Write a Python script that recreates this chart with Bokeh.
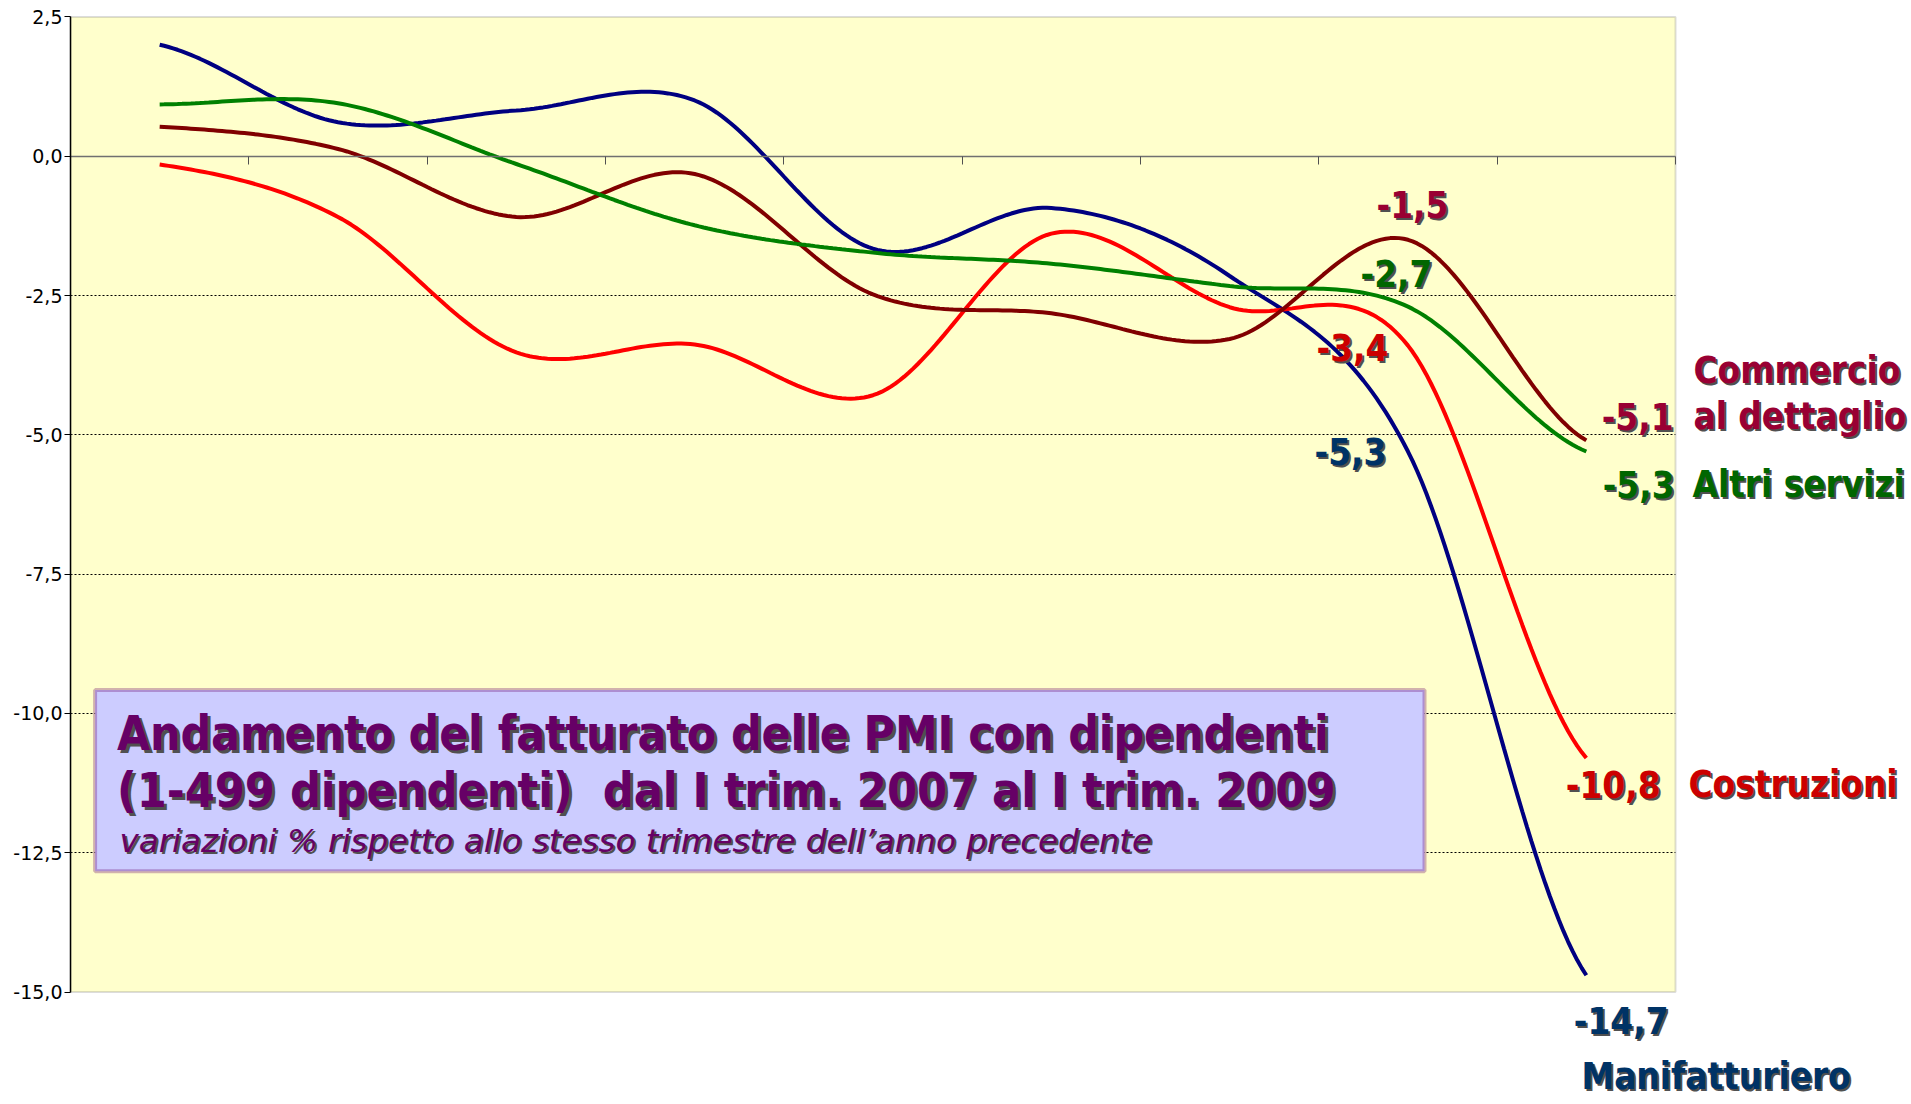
import numpy as np
from bokeh.plotting import figure
from bokeh.models import Range1d, FixedTicker, Label, BoxAnnotation, CustomJSTickFormatter
from bokeh.embed import file_html
from bokeh.resources import INLINE

# ---------------- data ----------------
quarters = ["I 2007", "II 2007", "III 2007", "IV 2007", "I 2008",
            "II 2008", "III 2008", "IV 2008", "I 2009"]
manifatturiero = [2.0, 0.61, 0.82, 1.0, -1.66, -0.93, -2.15, -5.3, -14.7]
costruzioni = [-0.15, -1.09, -3.52, -3.38, -4.29, -1.39, -2.71, -3.4, -10.8]
commercio = [0.53, 0.13, -1.09, -0.32, -2.48, -2.82, -3.28, -1.5, -5.1]
altri_servizi = [0.93, 0.95, -0.14, -1.24, -1.73, -1.93, -2.33, -2.7, -5.3]
series_names = ["Manifatturiero", "Costruzioni", "Commercio al dettaglio", "Altri servizi"]
y_min, y_max = -15.0, 2.5
y_ticks = [2.5, 0.0, -2.5, -5.0, -7.5, -10.0, -12.5, -15.0]
grid_ticks = [-2.5, -5.0, -7.5, -10.0, -12.5]

title1 = "Andamento del fatturato delle PMI con dipendenti"
title2 = "(1-499 dipendenti)\u00a0 dal I trim. 2007 al I trim. 2009"
title3 = "variazioni % rispetto allo stesso trimestre dell\u2019anno precedente"

# ---------------- geometry (page pixels -> data) ----------------
W, H = 1911, 1104
X0, X1 = 70.0, 1675.0
Y_TOP, Y_ZERO = 16.4, 155.7
N = len(quarters)
PX_X = (X1 - X0) / N
PX_Y = (Y_ZERO - Y_TOP) / y_max


def fx(px):
    return (px - X0) / PX_X


def fy(py):
    return (Y_ZERO - py) / PX_Y


def smooth(vals, n=40):
    v = [vals[0]] + list(vals) + [vals[-1]]
    xs, ys = [], []
    for i in range(len(vals) - 1):
        p0, p1, p2, p3 = v[i], v[i + 1], v[i + 2], v[i + 3]
        m1 = (p2 - p0) / 2.0
        m2 = (p3 - p1) / 2.0
        last = i == len(vals) - 2
        for t in np.linspace(0, 1, n, endpoint=last):
            h00 = 2 * t**3 - 3 * t**2 + 1
            h10 = t**3 - 2 * t**2 + t
            h01 = -2 * t**3 + 3 * t**2
            h11 = t**3 - t**2
            xs.append(i + 0.5 + t)
            ys.append(h00 * p1 + h10 * m1 + h01 * p2 + h11 * m2)
    return xs, ys


def fmt(v):
    return ("%.1f" % v).replace(".", ",")


p = figure(width=W, height=H, x_range=Range1d(0, fx(W)), y_range=Range1d(fy(H), fy(0)),
           output_backend="svg", toolbar_location=None,
           min_border_left=int(X0), min_border_right=0, min_border_top=0, min_border_bottom=0)
p.background_fill_color = "white"
p.border_fill_color = "white"
p.outline_line_color = None

# plot area (yellow)
p.add_layout(BoxAnnotation(left=0, right=N, bottom=y_min, top=y_max, fill_color="#FFFFCC",
                           fill_alpha=1, line_color=None, level="image"))

# y axis
p.yaxis.ticker = FixedTicker(ticks=y_ticks)
p.yaxis.bounds = (y_min, y_max)
p.yaxis.formatter = CustomJSTickFormatter(code="return tick.toFixed(1).replace('.', ',');")
p.yaxis.axis_line_color = "black"
p.yaxis.axis_line_width = 1.5
p.yaxis.major_tick_in = 0
p.yaxis.major_tick_out = 6
p.yaxis.major_tick_line_color = "black"
p.yaxis.minor_tick_line_color = None
p.yaxis.major_label_standoff = 2
p.yaxis.major_label_text_font = "DejaVu Sans"
p.yaxis.major_label_text_font_size = "19px"
p.yaxis.major_label_text_color = "black"

# category axis drawn on the zero line
p.xaxis.fixed_location = 0
p.xaxis.bounds = (0, N)
p.xaxis.ticker = FixedTicker(ticks=list(range(1, N + 1)))
p.xaxis.formatter = CustomJSTickFormatter(code="return '';")
p.xaxis.axis_line_color = "#707070"
p.xaxis.axis_line_width = 1.5
p.xaxis.major_tick_in = 0
p.xaxis.major_tick_out = 8
p.xaxis.major_tick_line_color = "#505050"
p.xaxis.minor_tick_line_color = None

p.xgrid.visible = False
grid = p.ygrid[0]
if "cross_bounds" in grid.properties():
    grid.ticker = FixedTicker(ticks=grid_ticks)
    grid.cross_bounds = (0, N)
    grid.grid_line_color = "black"
    grid.grid_line_dash = "2 2"
    grid.grid_line_width = 1
else:
    grid.visible = False
    p.segment(x0=[0] * len(grid_ticks), x1=[N] * len(grid_ticks), y0=grid_ticks, y1=grid_ticks,
              line_color="black", line_dash="2 2", line_width=1, level="underlay")

p.add_layout(BoxAnnotation(left=0, right=N, bottom=y_min, top=y_max, fill_alpha=0,
                           line_color="#8c8c8c", line_width=2, level="underlay"))

colors = ["#000080", "#FF0000", "#800000", "#008000"]
for vals, col in zip([manifatturiero, costruzioni, commercio, altri_servizi], colors):
    xs, ys = smooth(vals)
    p.line(xs, ys, line_color=col, line_width=4)

BOLD = "DejaVu Sans Condensed"
SHADOW = "#505050"


def add_text(px, py, text, color, size, align="left", style="bold", font=BOLD, sh=2.0):
    py = py - 0.38 * size  # compensate renderer baseline placement
    for dx, dy, c in ((sh, sh, SHADOW), (0, 0, color)):
        p.add_layout(Label(x=fx(px + dx), y=fy(py + dy), text=text, text_color=c,
                           text_font=font, text_font_size="%gpx" % size, text_font_style=style,
                           text_align=align, text_baseline="alphabetic"))


# title box
p.add_layout(BoxAnnotation(left=fx(94.6), right=fx(1424), top=fy(689.5), bottom=fy(870.7),
                           fill_color="#CCCCFF", fill_alpha=1, line_color="#660066",
                           line_width=4, level="annotation"))
add_text(116.5, 751, title1, "#660066", 47.5, sh=3)
add_text(116.5, 808, title2, "#660066", 48, sh=3)
add_text(119, 852.5, title3, "#660066", 32.5, style="italic", font="DejaVu Sans", sh=2)

# value labels (IV 2008)
c_com, c_alt, c_cos, c_man = "#990033", "#006600", "#CC0000", "#003366"
FS = 36.5
add_text(1412, 218, fmt(commercio[7]), c_com, FS, align="center")
add_text(1396, 287, fmt(altri_servizi[7]), c_alt, FS, align="center")
add_text(1352, 361, fmt(costruzioni[7]), c_cos, FS, align="center")
add_text(1350, 465, fmt(manifatturiero[7]), c_man, FS, align="center")

# value labels (I 2009)
add_text(1673, 430, fmt(commercio[8]), c_com, FS, align="right")
add_text(1674, 498, fmt(altri_servizi[8]), c_alt, FS, align="right")
add_text(1660, 798, fmt(costruzioni[8]), c_cos, FS, align="right")
add_text(1668, 1034, fmt(manifatturiero[8]), c_man, FS, align="right")

# series names
add_text(1693, 384, "Commercio", c_com, FS)
add_text(1693, 430, "al dettaglio", c_com, FS)
add_text(1692, 498, series_names[3], c_alt, FS)
add_text(1688, 798, series_names[1], c_cos, FS)
add_text(1581, 1090, series_names[0], c_man, FS)

open("out.html", "w").write(file_html(p, INLINE))
